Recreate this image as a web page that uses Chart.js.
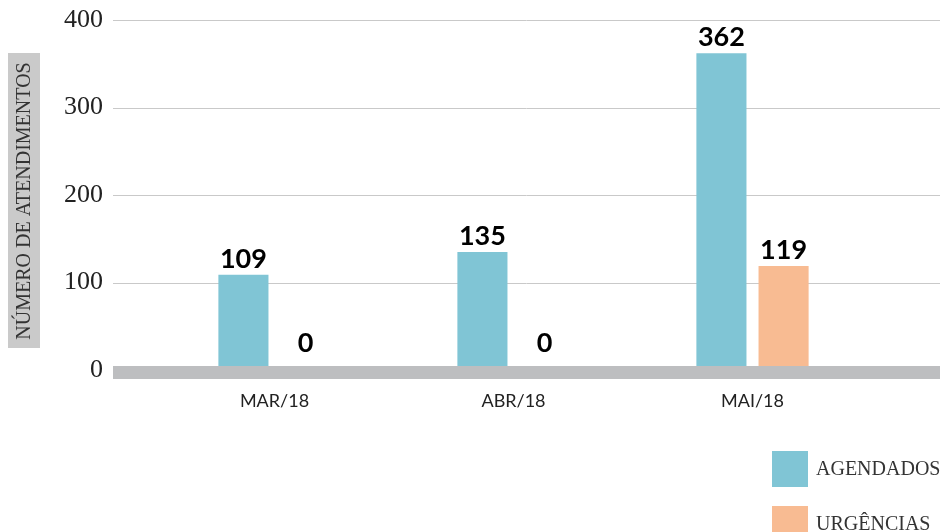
<!DOCTYPE html>
<html>
<head>
<meta charset="utf-8">
<script src="https://cdn.jsdelivr.net/npm/chart.js@4"></script>
<style>
  html, body { margin: 0; padding: 0; background: #fff; }
  #wrap { width: 943px; height: 532px; }
</style>
</head>
<body>
<div id="wrap"><canvas id="chart" width="943" height="532"></canvas></div>
<script>
// Dados do gráfico
const meses = ['MAR/18', 'ABR/18', 'MAI/18'];
const agendados = [109, 135, 362];
const urgencias = [0, 0, 119];
const yTicks = [0, 100, 200, 300, 400];
const tituloY = 'NÚMERO DE ATENDIMENTOS';

const corAgendados = '#80c5d5';
const corUrgencias = '#f8bb92';

// Plugin para grade estendida, faixa do zero, rótulos, título do eixo e legenda
const extras = {
    id: 'extras',
    beforeDatasetsDraw(chart) {
        const ctx = chart.ctx;
        const y = chart.scales.y;
        ctx.save();
        ctx.strokeStyle = '#c9c9c9';
        ctx.lineWidth = 1;
        yTicks.forEach(v => {
            if (v === 0) return;
            const py = Math.round(y.getPixelForValue(v)) + 0.5;
            ctx.beginPath();
            ctx.moveTo(113, py);
            ctx.lineTo(940, py);
            ctx.stroke();
        });

        // título do eixo y numa caixa cinza
        ctx.fillStyle = '#cacaca';
        ctx.fillRect(8, 53, 32, 295);
        ctx.translate(25, 201);
        ctx.rotate(-Math.PI / 2);
        ctx.fillStyle = '#333';
        ctx.font = '20px "Liberation Serif"';
        ctx.textAlign = 'center';
        ctx.textBaseline = 'middle';
        ctx.fillText(tituloY, 0, 0);
        ctx.restore();
    },
    afterDatasetsDraw(chart) {
        const ctx = chart.ctx;
        const y0 = chart.scales.y.getPixelForValue(0);
        ctx.save();
        // faixa do zero
        ctx.fillStyle = '#bdbec0';
        ctx.fillRect(113, y0 - 4, 827, 13);

        // valores acima das barras
        ctx.fillStyle = '#000';
        ctx.font = 'bold 27px Lato';
        ctx.textAlign = 'center';
        ctx.textBaseline = 'alphabetic';
        chart.data.datasets.forEach((ds, i) => {
            chart.getDatasetMeta(i).data.forEach((bar, j) => {
                const topo = Math.min(bar.y, y0 - 11);
                ctx.fillText(String(ds.data[j]), bar.x, topo - 7);
            });
        });

        // legenda
        ctx.font = '20px "Liberation Serif"';
        ctx.textAlign = 'left';
        ctx.textBaseline = 'middle';
        chart.data.datasets.forEach((ds, i) => {
            const top = 451 + i * 55;
            ctx.fillStyle = ds.backgroundColor;
            ctx.fillRect(772, top, 36, 36);
            ctx.fillStyle = '#333';
            ctx.fillText(ds.label, 816, top + 19);
        });
        ctx.restore();
    }
};

new Chart(document.getElementById('chart'), {
    type: 'bar',
    data: {
        labels: meses,
        datasets: [
            { label: 'AGENDADOS', data: agendados, backgroundColor: corAgendados },
            { label: 'URGÊNCIAS', data: urgencias, backgroundColor: corUrgencias }
        ]
    },
    options: {
        responsive: false,
        animation: false,
        layout: { padding: { left: 55, right: 71, top: 20, bottom: 102 } },
        datasets: {
            bar: { categoryPercentage: 0.52, barPercentage: 0.806 }
        },
        plugins: {
            legend: { display: false },
            tooltip: { enabled: false }
        },
        scales: {
            x: {
                grid: { display: false, drawTicks: false },
                border: { display: false },
                afterFit: scale => {
                    scale.height = 60;
                    scale.paddingLeft = 0;
                    scale.paddingRight = 0;
                },
                ticks: {
                    padding: 20,
                    color: '#222',
                    font: { family: 'Lato', size: 18 }
                }
            },
            y: {
                min: 0,
                max: 400,
                grid: { display: false, drawTicks: false },
                border: { display: false },
                afterFit: scale => {
                    scale.width = 100;
                    scale.paddingTop = 0;
                    scale.paddingBottom = 0;
                },
                afterBuildTicks: scale => { scale.ticks = yTicks.map(v => ({ value: v })); },
                ticks: {
                    padding: 52,
                    color: '#222',
                    font: { family: 'Liberation Serif', size: 26 }
                }
            }
        }
    },
    plugins: [extras]
});
</script>
</body>
</html>
